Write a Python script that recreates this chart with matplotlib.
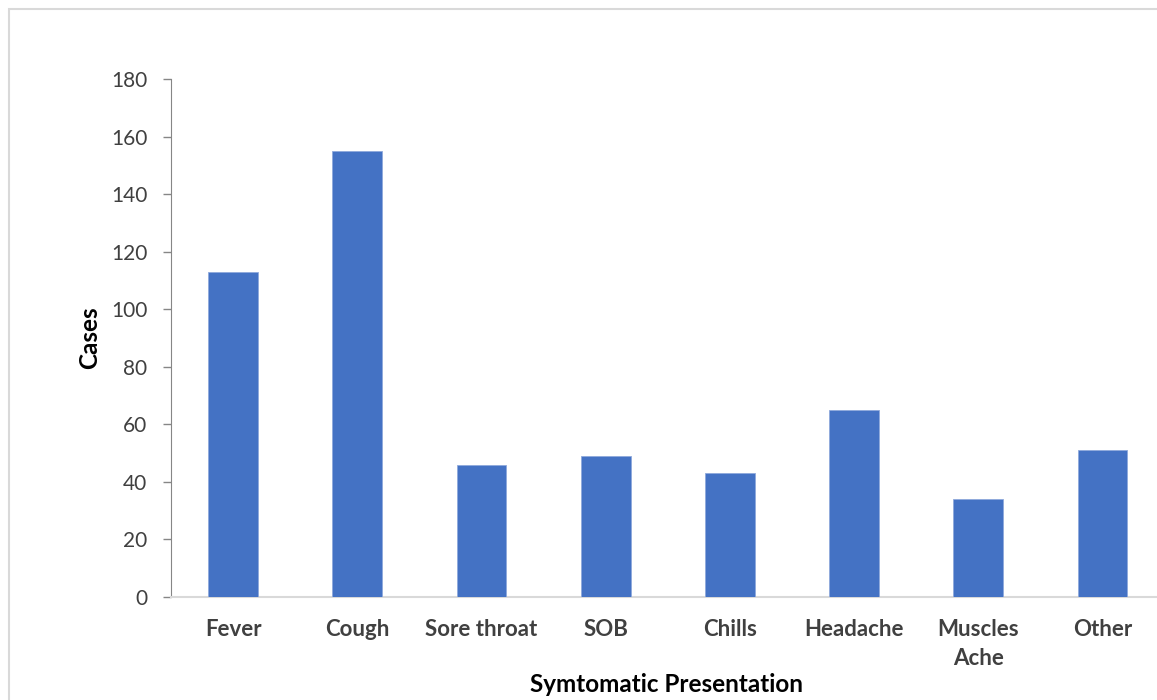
import matplotlib
matplotlib.use("Agg")
import matplotlib.pyplot as plt
from matplotlib.patches import Rectangle

categories = ["Fever", "Cough", "Sore throat", "SOB", "Chills", "Headache", "Muscles\nAche", "Other"]
cases = [113, 155, 46, 49, 43, 65, 34, 51]
yticks = [0, 20, 40, 60, 80, 100, 120, 140, 160, 180]

plt.rcParams['font.family'] = ['Lato', 'DejaVu Sans']

fig = plt.figure(figsize=(11.57, 7.0), dpi=100)
fig.patches.append(Rectangle((9/1157, -0.1), 1.2, 1 - 9/700 + 0.1, transform=fig.transFigure,
                             fill=False, edgecolor="#d9d9d9", linewidth=1.5))

ax = fig.add_axes([171/1157, 1 - 597/700, 993.6/1157, 518/700])
x = list(range(len(categories)))
ax.bar(x, cases, width=0.4, color="#4472C4", edgecolor="#8fa9dc", linewidth=0.6, zorder=3)

ax.set_xlim(-0.5, len(categories) - 0.5)
ax.set_ylim(0, 180)
ax.set_yticks(yticks)
ax.set_xticks(x)
ax.set_xticklabels(categories, fontsize=16, fontweight="bold", color="#404040", linespacing=1.45)
ax.tick_params(axis="y", labelsize=15, labelcolor="#404040", color="#868686", length=6, width=1, pad=11)
ax.tick_params(axis="x", length=0, pad=16)

for s in ["top", "right"]:
    ax.spines[s].set_visible(False)
ax.spines["left"].set_color("#868686")
ax.spines["bottom"].set_color("#d9d9d9")
ax.spines["bottom"].set_linewidth(1.5)

fig.text(90/1157, 1 - 338/700, "Cases", fontsize=17.5, fontweight="bold", color="black",
         rotation=90, ha="center", va="center")
fig.text(667/1157, 1 - 685/700, "Symtomatic Presentation", fontsize=17.5, fontweight="bold",
         color="black", ha="center", va="center")

fig.savefig("out.png", dpi=100)
